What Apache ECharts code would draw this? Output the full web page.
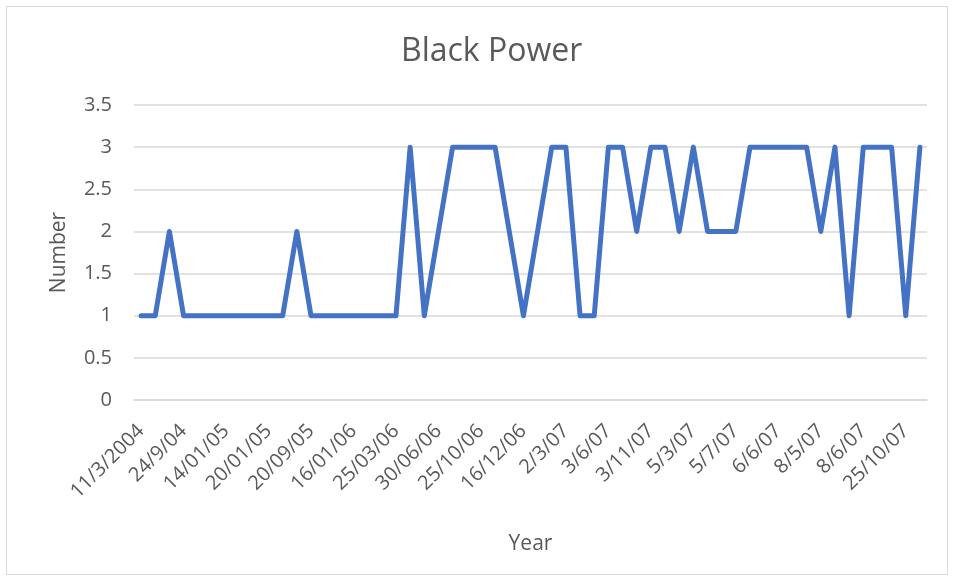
<!DOCTYPE html>
<html>
<head>
<meta charset="utf-8">
<script src="https://cdn.jsdelivr.net/npm/echarts@6/dist/echarts.min.js"></script>
<style>
  html, body { margin: 0; padding: 0; background: #fff; }
  #frame { position: absolute; left: 6px; top: 6px; width: 942px; height: 569px; border: 1px solid #d9d9d9; box-sizing: border-box; }
  #chart { position: absolute; left: 0; top: 0; width: 956px; height: 579px; }
</style>
</head>
<body>
<div id="frame"></div>
<div id="chart"></div>
<script>
// Dates printed under the axis (one every third record)
const tickLabels = [
  '11/3/2004', '24/9/04', '14/01/05', '20/01/05', '20/09/05', '16/01/06',
  '25/03/06', '30/06/06', '25/10/06', '16/12/06', '2/3/07', '3/6/07',
  '3/11/07', '5/3/07', '5/7/07', '6/6/07', '8/5/07', '8/6/07', '25/10/07'
];
const labelStep = 3;

// Number recorded for each entry, in order
const values = [
  1, 1, 2, 1, 1, 1, 1, 1, 1, 1,
  1, 2, 1, 1, 1, 1, 1, 1, 1, 3,
  1, 2, 3, 3, 3, 3, 2, 1, 2, 3,
  3, 1, 1, 3, 3, 2, 3, 3, 2, 3,
  2, 2, 2, 3, 3, 3, 3, 3, 2, 3,
  1, 3, 3, 3, 1, 3
];

const categories = values.map((_, i) => (i % labelStep === 0 ? tickLabels[i / labelStep] : ''));

const chart = echarts.init(document.getElementById('chart'), null, { renderer: 'canvas' });
const font = '"Open Sans", "Liberation Sans", sans-serif';
chart.setOption({
  animation: false,
  textStyle: { fontFamily: font },
  title: {
    text: 'Black Power',
    left: 396,
    top: 31,
    textStyle: { fontFamily: font, fontSize: 32, fontWeight: 'normal', color: '#595959' }
  },
  grid: { left: 134, right: 29, top: 105, bottom: 179 },
  xAxis: {
    type: 'category',
    data: categories,
    boundaryGap: true,
    name: 'Year',
    nameLocation: 'middle',
    nameGap: 134,
    nameTextStyle: { fontSize: 21, color: '#595959' },
    axisLine: { show: true, lineStyle: { color: '#d9d9d9', width: 1.5 } },
    axisTick: { show: false },
    axisLabel: {
      interval: (i) => i % labelStep === 0,
      rotate: 45,
      fontSize: 20,
      color: '#595959',
      margin: 28
    },
    splitLine: { show: false }
  },
  yAxis: {
    type: 'value',
    min: 0,
    max: 3.5,
    interval: 0.5,
    name: 'Number',
    nameLocation: 'middle',
    nameGap: 64,
    nameRotate: 90,
    nameTextStyle: { fontSize: 21, color: '#595959' },
    axisLine: { show: false },
    axisTick: { show: false },
    axisLabel: { fontSize: 20, color: '#595959', margin: 22 },
    splitLine: { lineStyle: { color: '#d9d9d9', width: 1.5 } }
  },
  series: [{
    type: 'line',
    data: values,
    symbol: 'none',
    lineStyle: { color: '#4472C4', width: 5, join: 'round', cap: 'round' }
  }]
});
</script>
</body>
</html>
